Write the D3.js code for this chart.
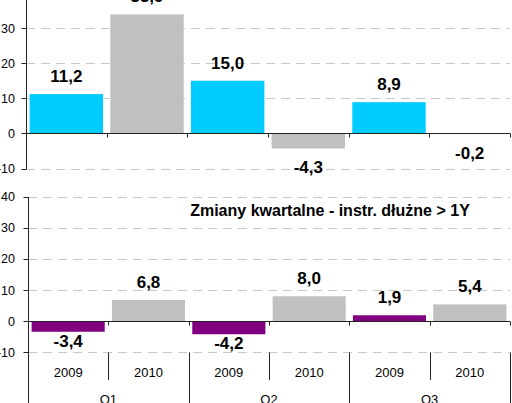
<!DOCTYPE html>
<html>
<head>
<meta charset="utf-8">
<script src="https://cdn.jsdelivr.net/npm/d3@7"></script>
<style>
  body { margin: 0; background: #fff; }
  svg { display: block; font-family: Arial, "Liberation Sans", sans-serif; }
</style>
</head>
<body>
<div id="chart"></div>
<script>
// dane
const quarters = ['Q1', 'Q2', 'Q3'];
const years = ['2009', '2010'];
const topValues = [11.2, 33.9, 15.0, -4.3, 8.9, -0.2];
const bottomValues = [-3.4, 6.8, -4.2, 8.0, 1.9, 5.4];
const yTicks = [-10, 0, 10, 20, 30, 40];
const bottomTitle = 'Zmiany kwartalne - instr. dłużne > 1Y';

const W = 512, H = 403;
const svg = d3.select('#chart').append('svg')
    .attr('width', W).attr('height', H);

// kategorie: kwartał x rok
const cats = [];
quarters.forEach(q => years.forEach(y => cats.push(q + '|' + y)));

const fmt = v => d3.format('.1f')(v).replace('.', ',').replace('−', '-');
const tickFmt = v => String(v);

function panel(opts) {
    const x = d3.scaleBand().domain(cats)
        .range([opts.x0, opts.x1])
        .paddingInner(0.09).paddingOuter(0.045);
    const y = d3.scaleLinear().domain([-10, 40]).range(opts.yRange);
    const g = svg.append('g');

    // siatka
    g.selectAll('.grid').data(yTicks.filter(t => t !== 0)).join('line')
        .attr('x1', opts.x0).attr('x2', opts.x1)
        .attr('y1', d => Math.round(y(d)) + 0.5).attr('y2', d => Math.round(y(d)) + 0.5)
        .attr('stroke', '#c8c8c8').attr('stroke-dasharray', '9,6');

    // słupki
    g.selectAll('.bar').data(opts.values).join('rect')
        .attr('x', (d, i) => x(cats[i]))
        .attr('width', x.bandwidth())
        .attr('y', d => Math.min(y(d), y(0)))
        .attr('height', d => Math.abs(y(d) - y(0)))
        .attr('fill', (d, i) => i % 2 === 0 ? opts.color : '#c0c0c0');

    // oś zero
    const z = Math.round(y(0)) + 0.5;
    g.append('line').attr('x1', opts.x0).attr('x2', opts.x1)
        .attr('y1', z).attr('y2', z).attr('stroke', '#222');
    const step = x.step();
    const bounds = d3.range(1, cats.length + 1).map(i => opts.x0 + i * step);
    g.selectAll('.ztick').data(bounds).join('line')
        .attr('x1', d => Math.round(d) + 0.5).attr('x2', d => Math.round(d) + 0.5)
        .attr('y1', z).attr('y2', z + 4).attr('stroke', '#222');

    // oś Y
    const ax = Math.round(opts.x0) + 0.5;
    g.append('line').attr('x1', ax).attr('x2', ax)
        .attr('y1', opts.axisTop).attr('y2', opts.axisBottom).attr('stroke', '#222');
    g.selectAll('.ytick').data(yTicks).join('line')
        .attr('x1', ax - 5).attr('x2', ax)
        .attr('y1', d => Math.round(y(d)) + 0.5).attr('y2', d => Math.round(y(d)) + 0.5)
        .attr('stroke', '#222');
    g.selectAll('.ylab').data(yTicks).join('text')
        .attr('x', 15).attr('y', d => y(d) + 4.5)
        .attr('text-anchor', 'end').attr('font-size', 12.5).attr('fill', '#000')
        .text(tickFmt);

    // etykiety wartości
    g.selectAll('.vlab').data(opts.values).join('text')
        .attr('x', (d, i) => x(cats[i]) + x.bandwidth() / 2)
        .attr('y', d => d >= 0 ? y(d) - 12 : y(d) + opts.negOffset)
        .attr('text-anchor', 'middle').attr('font-size', 17).attr('font-weight', 'bold')
        .attr('fill', '#000')
        .text(fmt);

    return {x, y, g};
}

const topPanel = panel({
    values: topValues, color: '#00ccff',
    x0: 26, x1: 510, yRange: [168.5, -7],
    axisTop: 0, axisBottom: 169, negOffset: 25
});

const bottomPanel = panel({
    values: bottomValues, color: '#800080',
    x0: 28, x1: 510, yRange: [352.3, 196.7],
    axisTop: 197, axisBottom: H, negOffset: 15
});

// tytuł dolnego wykresu
svg.append('text')
    .attr('x', 330).attr('y', 216)
    .attr('text-anchor', 'middle').attr('font-size', 16).attr('font-weight', 'bold')
    .attr('fill', '#000')
    .text(bottomTitle);

// oś kategorii (rok / kwartał)
const bx = bottomPanel.x, by = bottomPanel.y;
const labTop = Math.round(by(-10)) + 0.5;
const stepB = bx.step();
d3.range(1, cats.length + 1).forEach(i => {
    const xx = Math.round(28 + i * stepB) + 0.5;
    const long = i % years.length === 0;
    svg.append('line')
        .attr('x1', xx).attr('x2', xx)
        .attr('y1', labTop).attr('y2', long ? H : 380)
        .attr('stroke', '#222');
});
svg.selectAll('.yr').data(cats).join('text')
    .attr('x', d => bx(d) + bx.bandwidth() / 2)
    .attr('y', 377)
    .attr('text-anchor', 'middle').attr('font-size', 13).attr('fill', '#000')
    .text(d => d.split('|')[1]);
svg.selectAll('.qt').data(quarters).join('text')
    .attr('x', (d, i) => 28 + (i * 2 + 1) * stepB)
    .attr('y', 404)
    .attr('text-anchor', 'middle').attr('font-size', 13).attr('fill', '#000')
    .text(d => d);
</script>
</body>
</html>
